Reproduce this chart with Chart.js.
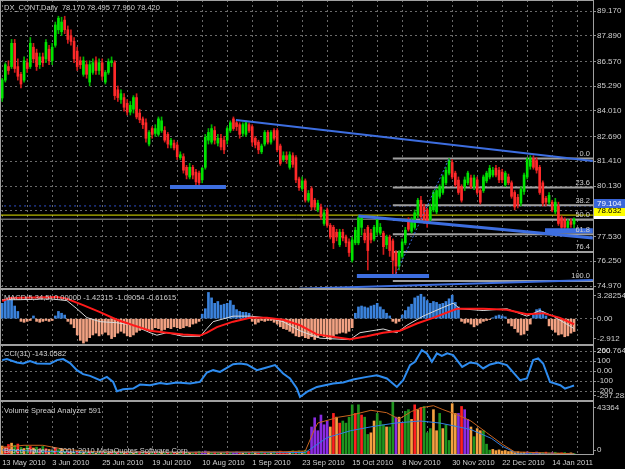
<!DOCTYPE html>
<html>
<head>
<meta charset="utf-8">
<script src="https://cdn.jsdelivr.net/npm/chart.js@4.4.1/dist/chart.umd.min.js"></script>
<style>
body { margin: 0; background: #000; width: 625px; height: 469px; overflow: hidden; position: relative; }
canvas { position: absolute; left: 0; display: block; }
</style>
</head>
<body>
<canvas id="price" width="625" height="289" style="top:0"></canvas>
<canvas id="macd" width="625" height="56" style="top:289px"></canvas>
<canvas id="cci" width="625" height="56" style="top:345px"></canvas>
<canvas id="vol" width="625" height="68" style="top:401px"></canvas>
<script>
// daily bars, index 0 = 13 May 2010
const dateLabels = ['13 May 2010', '3 Jun 2010', '25 Jun 2010', '19 Jul 2010', '10 Aug 2010', '1 Sep 2010',
  '23 Sep 2010', '15 Oct 2010', '8 Nov 2010', '30 Nov 2010', '22 Dec 2010', '14 Jan 2011'];
const labelIdx = [0, 16, 32, 48, 64, 80, 96, 112, 128, 144, 160, 176];
const gridIdx = [0, 8, 16, 24, 32, 40, 48, 56, 64, 72, 80, 88, 96, 104, 112, 120, 128, 136, 144, 152, 160, 168, 176, 184];

const opens = [
  84.68, 85.60, 86.30, 86.30, 87.50, 86.30, 85.90, 85.60, 86.50, 86.30,
  87.30, 87.00, 86.40, 86.80, 86.70, 87.20, 86.60, 87.40, 88.20, 88.10,
  88.70, 88.20, 87.90, 87.60, 87.10, 86.60, 85.90, 86.40, 85.50, 86.00,
  86.60, 86.10, 86.50, 85.50, 86.00, 86.50, 86.50, 85.10, 84.60, 84.70,
  84.40, 83.95, 84.10, 84.70, 83.90, 83.60, 83.40, 82.30, 83.10, 82.85,
  82.80, 83.00, 83.00, 82.80, 82.25, 82.35, 82.25, 81.60, 81.65, 81.10,
  80.60, 81.10, 80.85, 80.80, 80.45, 81.10, 82.50, 82.40, 83.00, 82.35,
  82.60, 82.50, 82.50, 83.00, 83.60, 83.40, 83.30, 82.85, 82.80, 83.30,
  83.20, 82.60, 82.40, 81.90, 82.30, 82.90, 82.40, 83.00, 83.00, 82.20,
  81.50, 81.70, 81.10, 81.70, 81.60, 80.50, 80.00, 80.40, 79.40, 80.00,
  79.40, 78.90, 79.05, 78.20, 78.90, 78.10, 78.00, 77.75, 77.10, 77.75,
  77.50, 77.25, 76.30, 77.20, 77.20, 78.00, 77.70, 78.00, 77.70, 77.40,
  77.75, 77.70, 77.70, 77.10, 77.50, 77.30, 76.70, 76.00, 76.50, 77.20,
  78.30, 77.80, 78.00, 78.65, 79.40, 79.05, 78.90, 78.40, 78.90, 78.80,
  79.60, 79.80, 80.30, 80.80, 81.35, 80.80, 80.44, 80.10, 80.10, 80.30,
  80.55, 80.10, 80.45, 79.90, 79.90, 80.40, 80.60, 80.70, 81.05, 80.95,
  80.85, 80.20, 80.60, 80.30, 79.80, 79.55, 79.25, 79.85, 80.60, 81.15,
  81.55, 81.45, 81.10, 80.30, 79.50, 79.30, 79.30, 78.80, 79.10, 78.50,
  78.40, 78.00, 78.30, 78.17
];
const highs = [
  85.70, 86.50, 86.60, 87.70, 87.70, 86.70, 86.00, 86.80, 86.70, 87.80,
  87.50, 87.20, 87.00, 87.00, 87.70, 87.40, 87.50, 88.60, 88.90, 88.85,
  88.90, 88.40, 88.20, 87.80, 87.30, 86.80, 86.80, 86.60, 86.60, 86.70,
  86.80, 86.70, 86.70, 86.10, 86.70, 86.80, 86.60, 85.30, 85.10, 84.90,
  84.60, 84.50, 84.80, 84.90, 84.10, 83.70, 83.60, 83.00, 83.20, 83.30,
  83.70, 83.70, 83.20, 82.90, 82.60, 82.50, 82.40, 81.90, 81.80, 81.20,
  81.30, 81.20, 81.00, 80.90, 81.10, 82.80, 83.10, 83.30, 83.20, 82.80,
  82.80, 82.70, 83.20, 83.50, 83.70, 83.50, 83.40, 83.40, 83.50, 83.40,
  83.30, 82.70, 82.50, 82.30, 83.00, 83.00, 83.00, 83.10, 83.10, 82.30,
  81.90, 81.90, 81.90, 81.85, 81.70, 80.60, 80.60, 80.50, 79.90, 80.10,
  79.50, 79.40, 79.20, 78.90, 79.00, 78.20, 78.10, 77.90, 77.90, 77.90,
  77.60, 77.40, 77.50, 78.00, 78.60, 78.60, 77.90, 78.10, 77.90, 78.10,
  78.50, 78.20, 77.80, 77.60, 77.60, 77.40, 76.80, 76.80, 77.40, 78.00,
  78.50, 78.50, 78.90, 79.50, 79.60, 79.20, 79.00, 79.20, 79.90, 80.00,
  80.20, 80.70, 81.10, 81.55, 81.50, 80.90, 80.60, 80.20, 80.60, 80.90,
  80.70, 80.70, 80.60, 80.00, 80.70, 80.90, 81.20, 81.10, 81.20, 81.10,
  81.00, 80.90, 80.75, 80.40, 79.90, 79.70, 80.10, 80.80, 81.60, 81.70,
  81.70, 81.60, 81.20, 80.40, 79.60, 79.80, 79.40, 79.50, 79.30, 78.60,
  78.50, 78.40, 78.45, 78.495
];
const lows = [
  84.50, 85.50, 85.90, 86.20, 86.00, 85.60, 85.20, 85.50, 86.00, 86.20,
  86.50, 86.10, 86.20, 86.30, 86.50, 86.40, 86.40, 87.30, 88.00, 87.90,
  88.00, 87.50, 87.40, 86.50, 86.10, 86.20, 85.80, 85.70, 85.30, 85.90,
  85.90, 85.90, 85.60, 85.40, 85.90, 86.30, 84.60, 84.50, 84.40, 84.00,
  83.80, 83.80, 83.90, 83.60, 83.40, 83.10, 82.40, 82.20, 82.60, 82.70,
  82.70, 82.90, 82.40, 82.10, 82.10, 82.00, 81.50, 81.50, 80.80, 80.50,
  80.50, 80.50, 80.15, 80.10, 80.30, 81.00, 82.30, 82.30, 82.30, 82.20,
  82.00, 81.80, 82.30, 82.90, 83.00, 83.00, 82.60, 82.70, 82.70, 82.90,
  82.20, 82.10, 81.80, 81.80, 82.20, 82.30, 82.30, 82.50, 81.90, 81.20,
  81.40, 81.30, 81.00, 81.10, 80.30, 79.90, 79.90, 79.30, 79.30, 78.90,
  78.90, 78.80, 78.40, 78.10, 78.00, 77.40, 76.90, 77.30, 77.00, 77.30,
  77.00, 76.50, 76.20, 77.10, 77.10, 77.60, 77.20, 75.80, 77.20, 77.30,
  77.60, 77.60, 76.60, 76.90, 76.50, 75.60, 75.60, 75.80, 76.40, 77.10,
  77.80, 77.70, 77.90, 78.50, 78.40, 78.20, 78.00, 78.30, 78.80, 78.70,
  79.50, 79.70, 80.20, 80.70, 80.50, 80.10, 79.70, 79.30, 79.90, 80.20,
  80.00, 79.95, 79.70, 79.20, 79.80, 80.30, 80.50, 80.60, 80.60, 80.30,
  80.30, 80.10, 80.20, 79.50, 78.90, 79.00, 79.10, 79.70, 80.50, 81.00,
  81.00, 80.80, 79.70, 79.10, 79.10, 79.20, 78.80, 78.70, 78.10, 77.90,
  77.85, 77.90, 78.00, 77.96
];
const closes = [
  85.61, 86.40, 86.10, 87.50, 86.20, 85.80, 85.40, 86.60, 86.20, 87.50,
  86.70, 86.30, 86.80, 86.50, 87.55, 86.60, 87.30, 88.45, 88.80, 88.60,
  88.20, 87.70, 87.60, 86.70, 86.30, 86.40, 86.60, 85.90, 86.40, 86.50,
  86.10, 86.50, 85.80, 86.00, 86.55, 86.60, 84.80, 84.70, 84.90, 84.20,
  83.95, 84.30, 84.70, 83.70, 83.55, 83.30, 82.60, 82.90, 82.80, 83.10,
  83.60, 83.50, 82.50, 82.30, 82.50, 82.10, 81.65, 81.75, 80.95, 80.70,
  81.10, 80.70, 80.35, 80.30, 81.05, 82.65, 82.90, 83.10, 82.50, 82.60,
  82.15, 82.00, 83.10, 83.40, 83.10, 83.20, 82.80, 83.30, 83.40, 83.00,
  82.40, 82.25, 82.00, 82.20, 82.90, 82.40, 82.90, 82.60, 82.00, 81.30,
  81.70, 81.50, 81.75, 81.25, 80.45, 80.05, 80.40, 79.40, 79.75, 79.05,
  79.05, 79.25, 78.55, 78.75, 78.10, 77.50, 77.20, 77.50, 77.75, 77.45,
  77.20, 76.70, 77.35, 77.85, 78.50, 78.50, 77.35, 76.80, 77.35, 78.00,
  78.40, 78.00, 77.00, 77.50, 76.80, 76.30, 76.00, 76.70, 77.25, 77.85,
  77.90, 78.30, 78.75, 79.40, 78.55, 78.40, 78.20, 79.05, 79.80, 79.90,
  80.10, 80.60, 80.95, 81.45, 80.60, 80.20, 79.80, 79.40, 80.45, 80.80,
  80.10, 80.55, 79.80, 79.30, 80.60, 80.80, 81.05, 80.95, 80.70, 80.45,
  80.45, 80.80, 80.30, 79.60, 79.05, 79.15, 79.95, 80.70, 81.50, 81.55,
  81.10, 80.95, 79.80, 79.25, 79.30, 79.65, 78.90, 79.30, 78.20, 78.00,
  78.00, 78.30, 78.15, 78.42
];

// price axis
const priceTicks = [89.17, 87.89, 86.57, 85.29, 84.01, 82.69, 81.41, 80.13, 78.85, 77.53, 76.25, 74.97];
const priceTickText = ['89.170', '87.890', '86.570', '85.290', '84.010', '82.690', '81.410', '80.130', '', '77.530', '76.250', '74.970'];

// drawn objects on the price window: [bar index, price]
const upperTrend = [[74.8, 83.54], [189, 81.43]];
const lowerTrend = [[114, 78.59], [189, 77.45]];
const bottomTrend = [[95, 74.83], [189, 75.28]];
const augLow = [[53.7, 80.08], [71.6, 80.08]];
const novLow = [[113.5, 75.49], [136.6, 75.49]];
const janLevel = [[173.7, 77.82], [189, 77.82]];
const fibSwing = [[126, 75.6], [143, 81.55]];
const fibStart = 125;
const fibLevels = [81.55, 80.06, 79.14, 78.39, 77.64, 76.72, 75.23];
const fibNames = ['0.0', '23.6', '38.2', '50.0', '61.8', '76.4', '100.0'];
const blueLevel = 79.104, yellowLevel = 78.632, bidLevel = 78.42;

// MACD(5,34,5)
const macdHist = [
  1.7, 2.1, 2.3, 2.1, 1.4, 0.8,
  -0.3, -0.4, -0.3, -0.2,
  0.3,
  -0.3, -0.4, -0.3, -0.2, -0.3, -0.2,
  0.3, 0.8, 0.6, 0.4,
  -0.3, -0.6, -1.0,
  -1.8, -2.4, -2.7, -2.5,
  -2.1, -1.8, -1.6, -1.9, -1.7, -1.5,
  -1.8, -2.2, -2.0, -1.6, -1.4,
  -1.6, -1.9, -2.0, -1.8, -1.5, -1.3, -1.2,
  -1.1, -1.3, -1.2, -1.0, -1.1,
  -1.3, -1.2, -1.0, -1.1, -0.9, -1.0, -1.1,
  -1.0, -0.8, -0.9, -0.6, -0.5, -0.3,
  0.5, 1.1, 2.9, 2.3, 1.7, 1.9, 1.5, 1.6, 1.7, 2.0, 1.5, 1.0, 0.8, 0.7, 0.7, 0.6,
  -0.3, -0.6, -0.4, -0.2, -0.3, -0.2, -0.2, -0.4, -0.6,
  -0.9, -1.1, -1.2, -1.4, -1.6, -1.9, -2.0,
  -1.9, -2.1, -2.2, -2.0, -2.3, -2.1, -1.8, -2.0, -2.2, -2.3, -2.0, -1.7, -1.6, -1.5, -1.6, -1.4, -1.0,
  0.6, 1.3, 1.4, 1.3, 1.2, 1.4, 1.5, 1.7, 1.3, 1.0, 0.6, 0.3,
  -0.3, -0.5, -0.3,
  0.4, 0.9, 1.3, 1.6, 2.3, 2.5, 2.7, 2.4, 2.0, 1.7, 1.9, 1.8, 1.6, 1.7, 1.9, 2.2, 2.6, 1.8, 1.3,
  -0.3, -0.5, -0.4, -0.6, -0.9, -0.7, -0.5, -0.3,
  -0.2, -0.1, 0.1,
  0.3, 0.4, 0.3, 0.2,
  -0.5, -0.8, -1.1, -1.5, -1.8, -1.7, -1.3, -0.6,
  0.4, 1.0, 1.1, 0.8, 0.3,
  -0.8, -1.2, -1.5, -1.8, -1.7, -2.0, -1.9, -1.6, -1.42
];
const macdMainX = [0, 5.7, 15.3, 20.7, 23.9, 27.1, 31.3, 36.7, 41.9, 47.3, 49.5, 52.7, 57.9, 63.3, 65.5, 67.5, 73.9, 79.3, 84.7, 89.9, 95.3, 101.7, 111.3, 114.5, 121.9, 126.3, 129.5, 134.7, 140.1, 144.3, 146.5, 153.9, 161.5, 167.9, 172.1, 176.3, 183];
const macdMainY = [2.1, 2.1, 2.2, 2.0, 1.1, 0.12, -0.33, -0.45, -0.73, -1.55, -1.83, -1.55, -1.95, -1.95, -1.1, -0.33, 0.28, 0.28, 0.09, -0.33, -1.34, -2.16, -2.32, -1.55, -1.14, -1.55, -0.73, 0.28, 1.1, 1.71, 1.1, 0.9, 1.1, 0.28, 0.9, 0.28, -1.09];
const macdSigX = [0, 2.5, 17.5, 20.7, 25.9, 31.3, 36.7, 41.9, 47.3, 52.7, 57.9, 63.3, 65.5, 68.7, 73.9, 79.3, 84.7, 89.9, 95.3, 100.7, 111.3, 116.7, 121.9, 127.3, 132.7, 137.9, 145.5, 153.9, 161.5, 167.9, 173.1, 178.5, 183];
const macdSigY = [1.95, 2.3, 2.4, 2.2, 1.5, 0.73, -0.12, -0.73, -1.34, -1.55, -1.74, -1.87, -1.55, -0.94, -0.33, 0.09, 0.09, -0.12, -0.73, -1.74, -2.28, -1.95, -1.55, -1.34, -0.53, 0.09, 1.1, 1.1, 0.98, 0.49, 0.61, 0.09, -0.62];

// CCI(31)
const cciX = [0, 1.5, 4.7, 6.7, 8.9, 11.1, 15.3, 17.5, 19.5, 21.7, 23.9, 25.9, 28.1, 31.3, 33.5, 35.5, 36.7, 38.7, 41.9, 44.1, 47.3, 50.5, 52.7, 55.9, 60.1, 63.3, 65.5, 67.5, 69.7, 73.9, 76.1, 78.3, 81.5, 83.5, 87.3, 89.9, 92.1, 94.3, 95.3, 97.5, 100.7, 105.9, 109.1, 112.3, 116.7, 119.9, 123.1, 126.3, 128.3, 130.5, 132.1, 134.3, 135.9, 137.5, 139.1, 140.7, 142.4, 144.3, 147.2, 149.7, 151.9, 153.9, 156.1, 158.7, 161.5, 165.7, 167.9, 169.9, 171.5, 173.1, 175.3, 176.9, 178.6, 180.1, 181.7, 183];
const cciY = [110, 120, 87, 77, 100, 77, 73, 110, 120, 80, 10, -30, -47, -90, -57, -107, -200, -180, -173, -133, -140, -117, -127, -113, -123, -107, -13, 10, -7, 70, 77, 67, 10, 27, 60, -23, -73, -173, -257, -207, -157, -123, -113, -83, -57, -40, -73, -157, -90, 60, 93, 210, 177, 93, 177, 153, 177, 160, 43, 87, 77, 27, 67, 87, 60, -90, -73, 110, 127, 77, -107, -123, -140, -173, -157, -143];

// Volume Spread Analyzer
const volumes = [
  7200, 6500, 8400, 9500, 7800, 8800, 6100, 5200, 7400, 6800, 5600, 6300, 4800, 6900, 5100, 4400, 3700, 5800, 4300, 4900,
  3100, 2500, 2900, 2200, 3400, 2600, 1900, 2300, 2800, 2100, 1700, 2400, 2000, 2600, 1800, 2200, 3300, 2500, 1900, 2100,
  1800, 2300, 1600, 2000, 2700, 1900, 2400, 1500, 1800, 2200, 1700, 2500, 2000, 1600, 2300, 1900, 1400, 2100, 2800, 1700,
  2000, 1600, 2400, 3000, 2200, 3200, 2500, 1900, 2300, 1800, 2100, 1500, 2600, 1900, 1700, 2400, 2000, 1600, 2200, 1800,
  1900, 2300, 1700, 2600, 2100, 1800, 2400, 2900, 2200, 3100, 2500, 2000, 2700, 3400, 2800, 3300, 2600, 3800, 3000,
  22500, 29900, 19500, 32100, 24300, 27300, 22500, 33400, 30400, 25600, 27300, 25600, 30400, 40300, 33400, 40300, 32100, 30400, 16500, 17800,
  27300, 33400, 27300, 24300, 22500, 22500, 43364, 30400, 30400, 25600, 35100, 36400, 28600, 40300, 36400, 38200, 39000, 17800, 21200, 36400,
  19500, 33400, 21200, 24300, 11700, 41200, 33400, 33400, 39000, 36400, 28600, 22500, 14700, 21200, 19500, 19500, 8700,
  3900, 4500, 3500, 4100, 3200, 3600, 2800, 3000, 2400, 2600,
  1900, 2200, 2500, 1800, 2100, 2400, 1700, 2000, 2300, 1600, 1900, 2200, 1500, 1800, 2000, 1400, 1700, 1200
];
// bar class per day: p climax, r up-thrust, o neutral, g normal
const volType = ['orrogrgogrogrgrogrgo', 'grogrgogrgogrgorgrgo', 'rgogrgrogrgogrgrogrg', 'ogrgppogrgogrgpprogr',
  'gorgrgogrrrrogrgogr', 'ppppppororggggrgrggooggg', 'oggporggororgggoogoggoo', 'prppogoogggo',
  'oooooooooo', 'pgrpogrgpgorgrogrg'].join('');
const volSlowX = [0, 7, 13, 20, 30, 60, 90, 97, 100, 101, 107.7, 111.5, 118, 123, 127, 128, 131, 134.5, 138, 141, 146, 150, 155, 160, 164, 183];
const volSlowY = [6000, 7800, 7800, 4500, 2600, 2200, 2600, 3200, 21000, 25700, 30400, 31900, 35900, 34000, 28800, 30400, 35000, 38100, 39600, 36500, 31900, 27300, 18000, 8700, 2500, 900];
const volFastX = [0, 20, 97, 104, 111.5, 118, 122, 126, 133.7, 140, 146, 150, 156.6, 160, 165, 183];
const volFastY = [4000, 2500, 2000, 14000, 19500, 22600, 24200, 25700, 27300, 25700, 22600, 20400, 13300, 7100, 900, 800];

// ---------------------------------------------------------------
const X_MIN = -0.704, X_MAX = 189.06;
const GRID = '#6a6a6a';
const FRAME = '#a0a0a0';
const TEXT = '#d0d0d0';
const FONT = '"Liberation Sans", Arial, sans-serif';

Chart.defaults.font.family = FONT;
Chart.defaults.font.size = 8;
Chart.defaults.color = TEXT;
Chart.defaults.animation = false;
Chart.defaults.responsive = false;
Chart.defaults.plugins.legend.display = false;
Chart.defaults.plugins.tooltip.enabled = false;

const idx = closes.map((_, i) => i);
const pts = (xs, ys) => xs.map((x, k) => ({ x: x, y: ys[k] }));
const seg = p => p.map(q => ({ x: q[0], y: q[1] }));

function makeX(show) {
  return {
    type: 'linear', min: X_MIN, max: X_MAX, offset: false,
    grid: { color: GRID, offset: false, drawTicks: false },
    border: { display: false, dash: [2, 3] },
    ticks: {
      display: show, autoSkip: false, maxRotation: 0, align: 'start', padding: 3,
      font: { size: 7.5 },
      callback: v => { const k = labelIdx.indexOf(v); return k >= 0 ? dateLabels[k] : ''; }
    },
    afterBuildTicks: s => { s.ticks = gridIdx.map(v => ({ value: v })); },
    afterFit: s => { s.height = show ? 14 : 0; s.paddingLeft = 0; s.paddingRight = 0; }
  };
}

function makeY(min, max, vals, texts, gridVals) {
  return {
    type: 'linear', position: 'right', min: min, max: max,
    grid: {
      color: c => (c.tick && gridVals.indexOf(c.tick.value) >= 0) ? GRID : 'rgba(0,0,0,0)',
      tickLength: 3, tickColor: '#909090'
    },
    border: { display: false, dash: [2, 3] },
    ticks: {
      padding: 1, autoSkip: false,
      callback: v => { const k = vals.indexOf(v); return k >= 0 ? texts[k] : ''; }
    },
    afterBuildTicks: s => { s.ticks = vals.map(v => ({ value: v })); },
    afterFit: s => { s.width = 32; s.paddingTop = 0; s.paddingBottom = 0; }
  };
}

function framePlugin(id) {
  return {
    id: id,
    afterDraw(chart) {
      const { ctx, chartArea: a } = chart;
      ctx.save();
      ctx.strokeStyle = FRAME;
      ctx.lineWidth = 1;
      ctx.strokeRect(a.left + 0.5, a.top + 0.5, a.right - a.left, a.bottom - a.top - 1);
      ctx.restore();
    }
  };
}

function textPlugin(id, items) {
  return {
    id: id,
    afterDatasetsDraw(chart) {
      const ctx = chart.ctx;
      ctx.save();
      ctx.textBaseline = 'middle';
      items.forEach(t => {
        ctx.font = (t.size || 7.5) + 'px ' + FONT;
        ctx.fillStyle = t.color || TEXT;
        ctx.textAlign = t.align || 'left';
        ctx.fillText(t.text, t.x, t.y);
      });
      ctx.restore();
    }
  };
}

function lineSet(data, color, width, order, dash) {
  return {
    type: 'line', data: data, borderColor: color, borderWidth: width, borderDash: dash || [],
    pointRadius: 0, fill: false, tension: 0, order: order
  };
}

// ---------------- price window ----------------
const UP = '#00e400', DOWN = '#ff2a2a';
const fibLabels = {
  id: 'fibLabels',
  afterDatasetsDraw(chart) {
    const ctx = chart.ctx, y = chart.scales.y, a = chart.chartArea;
    ctx.save();
    ctx.font = '7.5px ' + FONT;
    ctx.fillStyle = TEXT;
    ctx.textAlign = 'right';
    ctx.textBaseline = 'bottom';
    fibLevels.forEach((lv, k) => ctx.fillText(fibNames[k], a.right - 3, y.getPixelForValue(lv) - 1));
    ctx.restore();
  }
};
const priceBoxes = {
  id: 'priceBoxes',
  afterDraw(chart) {
    const ctx = chart.ctx, y = chart.scales.y, a = chart.chartArea;
    const yel = y.getPixelForValue(yellowLevel) - 4;
    const boxes = [
      { cy: yel + 3, bg: '#ffffff', fg: '#000000', text: '78.420' },
      { cy: yel, bg: '#ffff00', fg: '#000000', text: '78.632' },
      { cy: y.getPixelForValue(blueLevel) - 2, bg: '#3a66d8', fg: '#ffffff', text: '79.104' }
    ];
    ctx.save();
    ctx.font = '8px ' + FONT;
    ctx.textBaseline = 'middle';
    ctx.textAlign = 'left';
    boxes.forEach(b => {
      ctx.fillStyle = b.bg;
      ctx.fillRect(a.right + 1, Math.round(b.cy - 4.5), 31, 9);
      ctx.fillStyle = b.fg;
      ctx.fillText(b.text, a.right + 4, b.cy);
    });
    ctx.restore();
  }
};

const fibSets = fibLevels.map(lv => lineSet([{ x: fibStart, y: lv }, { x: 190, y: lv }], '#a0a0a0', 2, 5));

new Chart(document.getElementById('price'), {
  type: 'bar',
  data: {
    datasets: [
      lineSet(seg(upperTrend), '#3d6ee0', 2, 0),
      lineSet(seg(lowerTrend), '#3d6ee0', 3, 0),
      lineSet(seg(bottomTrend), '#3d6ee0', 2, 0),
      lineSet(seg(augLow), '#3d6ee0', 4, 0),
      lineSet(seg(novLow), '#3d6ee0', 4, 0),
      lineSet(seg(janLevel), '#3d6ee0', 5, 0),
      lineSet(seg(fibSwing), '#3d6ee0', 1, 0, [2, 2]),
      {
        type: 'bar', grouped: false, order: 1, barThickness: 2, minBarLength: 1,
        data: idx.map(i => ({ x: i, y: [opens[i], closes[i]] })),
        backgroundColor: c => closes[c.dataIndex] >= opens[c.dataIndex] ? UP : DOWN
      },
      {
        type: 'bar', grouped: false, order: 2, barThickness: 1,
        data: idx.map(i => ({ x: i, y: [lows[i], highs[i]] })),
        backgroundColor: c => closes[c.dataIndex] >= opens[c.dataIndex] ? '#00b400' : '#d01c1c'
      },
      ...fibSets,
      lineSet([{ x: -1, y: blueLevel }, { x: 190, y: blueLevel }], '#3050c8', 1, 6, [2, 3]),
      lineSet([{ x: -1, y: yellowLevel }, { x: 190, y: yellowLevel }], '#e6e600', 1, 6),
      lineSet([{ x: -1, y: bidLevel }, { x: 190, y: bidLevel }], '#9a9a9a', 1, 6)
    ]
  },
  options: {
    layout: { padding: 0 },
    scales: {
      x: makeX(false),
      y: makeY(74.816, 89.738, priceTicks, priceTickText, priceTicks)
    }
  },
  plugins: [framePlugin('framePrice'), fibLabels, priceBoxes,
    textPlugin('titlePrice', [{ text: 'DX_CONT,Daily  78.170 78.495 77.960 78.420', x: 4, y: 7.5 }])]
});

// ---------------- MACD window ----------------
new Chart(document.getElementById('macd'), {
  type: 'bar',
  data: {
    datasets: [
      lineSet(pts(macdSigX, macdSigY), '#ff1a1a', 2, 0),
      lineSet(pts(macdMainX, macdMainY), '#d8d8d8', 1, 1),
      {
        type: 'bar', order: 2, barThickness: 2,
        data: idx.map(i => ({ x: i, y: macdHist[i] })),
        backgroundColor: c => macdHist[c.dataIndex] >= 0 ? '#3a82dc' : '#f2a283'
      }
    ]
  },
  options: {
    layout: { padding: 0 },
    scales: {
      x: makeX(false),
      y: makeY(-2.912, 3.28254, [2.54, 0, -2.19], ['3.28254', '0.00', '-2.912'], [0])
    }
  },
  plugins: [framePlugin('frameMacd'),
    textPlugin('titleMacd', [{ text: 'MACD(5,34,5) 0.00000 -1.42315 -1.09054 -0.61615', x: 4, y: 8.5 }])]
});

// ---------------- CCI window ----------------
new Chart(document.getElementById('cci'), {
  type: 'line',
  data: {
    datasets: [lineSet(pts(cciX, cciY), '#2e8cf0', 2, 0)]
  },
  options: {
    layout: { padding: 0 },
    scales: {
      x: makeX(false),
      y: makeY(-297.283, 260.764, [199, 200, 100, 0, -100, -200, -242],
        ['260.764', '200', '100', '0.00', '-100', '-200', '-297.283'], [200, 100, 0, -100, -200])
    }
  },
  plugins: [framePlugin('frameCci'),
    textPlugin('titleCci', [{ text: 'CCI(31) -143.0582', x: 4, y: 9 }])]
});

// ---------------- Volume window ----------------
const VCOL = { p: '#8a2be2', r: '#ff2020', o: '#f4a041', g: '#1f941f' };
new Chart(document.getElementById('vol'), {
  type: 'bar',
  data: {
    datasets: [
      lineSet(pts(volSlowX, volSlowY), '#c8641e', 1, 0),
      lineSet(pts(volFastX, volFastY), '#2f7fe0', 1, 0),
      {
        type: 'bar', order: 1, barThickness: 2,
        data: idx.map(i => ({ x: i, y: volumes[i] })),
        backgroundColor: c => VCOL[volType[c.dataIndex]] || '#888888'
      }
    ]
  },
  options: {
    layout: { padding: 0 },
    scales: {
      x: makeX(true),
      y: makeY(0, 43364, [38305, 4015], ['43364', '0'], [])
    }
  },
  plugins: [framePlugin('frameVol'),
    textPlugin('titleVol', [
      { text: 'Volume Spread Analyzer 591', x: 4, y: 9.5 },
      { text: 'Broco Trader, \u00a9 2001-2010 MetaQuotes Software Corp.', x: 4, y: 49.5 }
    ])]
});
</script>
</body>
</html>
